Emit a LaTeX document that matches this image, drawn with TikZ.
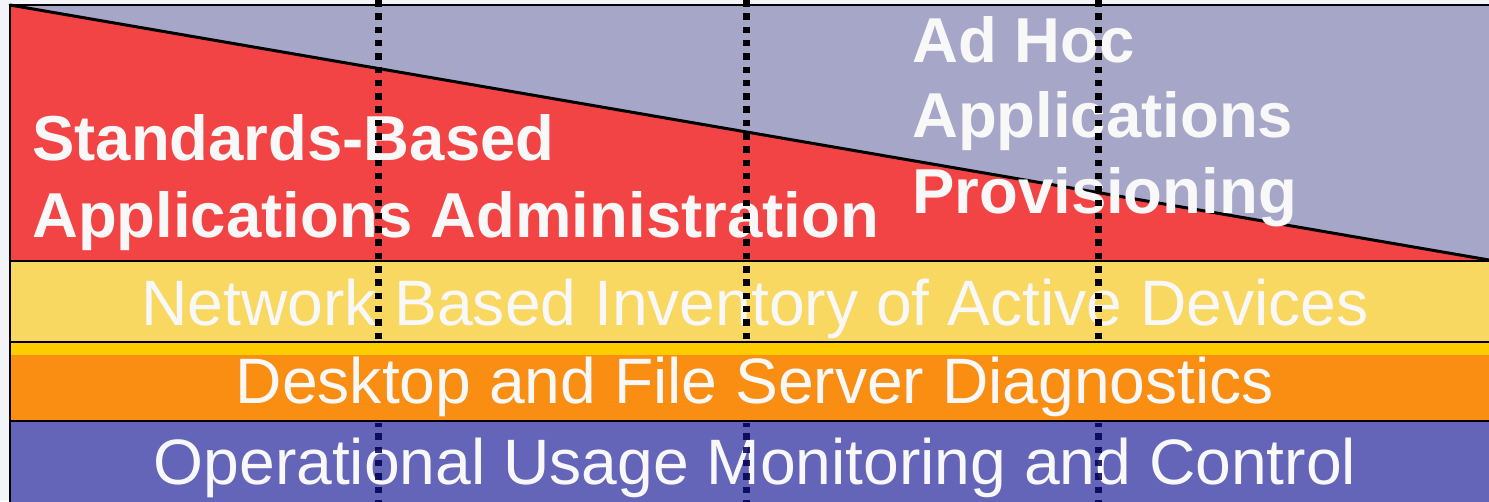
\documentclass[tikz,border=0pt]{standalone}
\usepackage{fontspec}
\setmainfont{Liberation Sans}
\definecolor{bgc}{HTML}{F3F4F8}
\definecolor{redc}{HTML}{F24444}
\definecolor{grayc}{HTML}{A6A6C8}
\definecolor{yelc}{HTML}{F9D862}
\definecolor{stripc}{HTML}{FFCC00}
\definecolor{orac}{HTML}{F98E12}
\definecolor{bluec}{HTML}{6464B8}
\definecolor{navyc}{HTML}{000050}
\definecolor{txtc}{HTML}{F8F8F8}
\tikzset{
  bigbold/.style={inner sep=0pt, anchor=base west, text=txtc, font=\fontsize{63.5}{76}\selectfont\bfseries},
  bandtext/.style={inner sep=0pt, anchor=base, text=txtc, font=\fontsize{64.2}{76}\selectfont},
  divider/.style={line width=7pt, dash pattern=on 6.5pt off 6.8pt},
  border/.style={line width=2.2pt, black}
}
\begin{document}
\begin{tikzpicture}[x=1pt,y=-1pt]
\useasboundingbox (0,0) rectangle (1489,501);
\fill[bgc] (0,0) rectangle (1489,501);
% top region
\fill[grayc] (10,5) rectangle (1500,261);
\fill[redc] (10,5) -- (1489,260) -- (1500,260) -- (1500,261) -- (10,261) -- cycle;
\draw[line width=3pt, line cap=round] (10,5) -- (1489,260);
% yellow band
\fill[yelc] (10,261) rectangle (1500,342);
% texts in top region
\node[bigbold] (stdA) at (32,160) {Standards-Based};
\node[bigbold] (stdB) at (32,237) {Applications Administration};
\node[bigbold] (adA) at (912,62) {Ad Hoc};
\node[bigbold] (adB) at (912,137) {Applications};
\node[bigbold] (adC) at (912,213) {Provisioning};
\node[bandtext] (net) at (755,325) {Network Based Inventory of Active Devices};
% dividers (upper part)
\foreach \xx in {378,746,1098}
  \draw[divider, black] (\xx,0) -- (\xx,341);
% orange band
\fill[stripc] (10,342) rectangle (1500,355);
\fill[orac] (10,355) rectangle (1500,421);
\node[bandtext] (diag) at (755,403) {Desktop and File Server Diagnostics};
% blue band
\fill[bluec] (10,421) rectangle (1500,510);
\node[bandtext] (ops) at (755,484) {Operational Usage Monitoring and Control};
\foreach \xx in {378,746,1098}
  \draw[divider, navyc, opacity=0.85, dash phase=3pt] (\xx,423) -- (\xx,510);
% borders
\draw[border] (10,5) -- (1500,5);
\draw[border] (10,261) -- (1500,261);
\draw[border] (10,342) -- (1500,342);
\draw[border] (10,421) -- (1500,421);
\draw[border] (10,4) -- (10,510);
\end{tikzpicture}
\end{document}
